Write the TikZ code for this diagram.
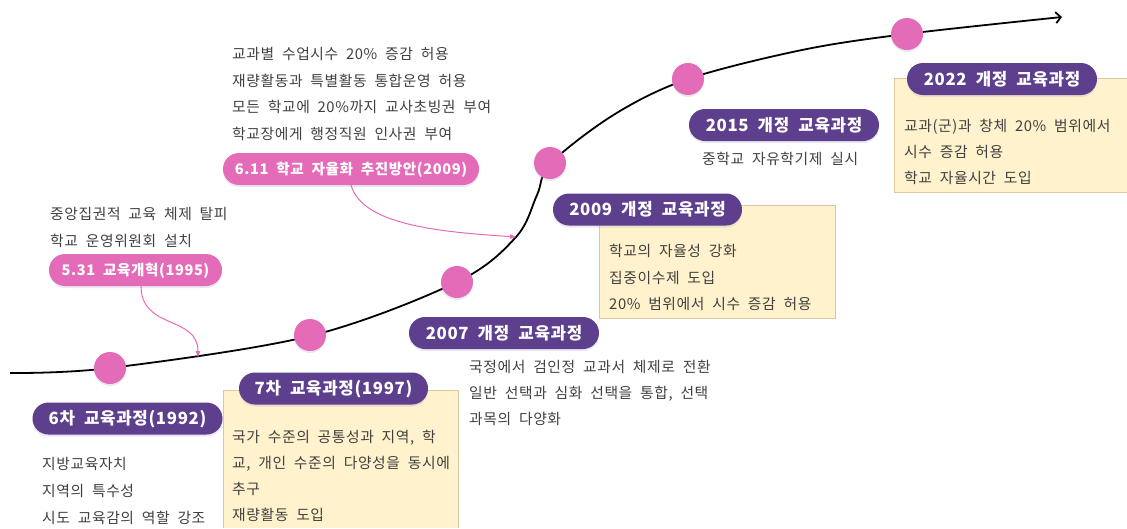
\documentclass[tikz,border=0pt]{standalone}
\usepackage{fontspec}
\setmainfont{Noto Sans CJK KR}[WordSpace=2.0, LetterSpace=4]
\usetikzlibrary{arrows.meta,shadows,shapes.misc}
\definecolor{mypurple}{HTML}{5D3F8E}
\definecolor{mypink}{HTML}{E46BB8}
\definecolor{yfill}{HTML}{FFF2CC}
\definecolor{yline}{HTML}{D9C8A0}
\definecolor{txtgray}{HTML}{404040}
\tikzset{
  pillbase/.style={rounded rectangle, text=white, inner sep=0pt, minimum height=32pt,
    drop shadow={shadow xshift=0pt, shadow yshift=-2pt, opacity=0.25, fill=mypurple!50}},
  ppill/.style={pillbase, fill=mypurple,
    font=\bfseries\fontsize{16.8}{18}\selectfont, text height=13.7pt, text depth=1.2pt},
  kpill/.style={pillbase, fill=mypink,
    font=\bfseries\fontsize{14.6}{17}\selectfont, text height=12pt, text depth=1pt},
  body/.style={anchor=west, inner sep=0pt, text=txtgray, font=\fontsize{14.8}{17}\selectfont,
    text height=12.1pt, text depth=1pt},
  dot/.style={circle, fill=mypink, minimum size=32pt, inner sep=0pt,
    drop shadow={shadow xshift=0pt, shadow yshift=-2pt, opacity=0.25, fill=mypurple!50}},
  ybox/.style={fill=yfill, draw=yline, line width=0.8pt},
  pinkarrow/.style={draw=mypink, line width=1pt, -{Latex[length=7pt,width=5pt]}},
}
\begin{document}
\begin{tikzpicture}[x=1pt,y=-1pt]
\useasboundingbox (0,0) rectangle (1127,528);
% yellow boxes
\fill[yfill] (223,390) rectangle (458,528);
\draw[yline, line width=0.8pt] (223,528) -- (223,390) -- (458,390) -- (458,528);
\draw[ybox] (599,205) rectangle (835,318);
\fill[yfill] (894,78) rectangle (1127,192);
\draw[yline, line width=0.8pt] (1127,78) -- (894,78) -- (894,192) -- (1127,192);
% main curve
\coordinate (cs) at (10,373);
\coordinate (ce) at (1062,17);
\draw[line width=1.8pt, -{Straight Barb[length=5pt,width=11pt]}] plot[smooth, tension=0.55] coordinates
  {(10,373) (110,368) (310,336) (457,282) (516,237) (537,195) (551,163) (615,114) (688,79) (802,50) (906,34) (1062,17)};
% dots
\node[dot] (d1) at (110,368) {};
\node[dot] (d2) at (310,335) {};
\node[dot] (d3) at (457,282) {};
\node[dot] (d4) at (550,163) {};
\node[dot] (d5) at (688,79) {};
\node[dot] (d6) at (907,34) {};
% purple pills
\node[ppill, minimum width=190pt] (p6) at (127.5,418.5) {6차 교육과정(1992)};
\node[ppill, minimum width=189pt] (p7) at (333.5,388.5) {7차 교육과정(1997)};
\node[ppill, minimum width=190pt] (p07) at (504,333) {2007 개정 교육과정};
\node[ppill, minimum width=189pt] (p09) at (647.5,209.5) {2009 개정 교육과정};
\node[ppill, minimum width=190pt] (p15) at (784,125) {2015 개정 교육과정};
\node[ppill, minimum width=190pt] (p22) at (1002,79) {2022 개정 교육과정};
% pink pills
\node[kpill, minimum width=173pt] (k531) at (135.5,270) {5.31 교육개혁(1995)};
\node[kpill, minimum width=256pt] (k611) at (351,169) {6.11 학교 자율화 추진방안(2009)};
% pink arrows
\coordinate (a1) at (198,358);
\coordinate (a2) at (517,237);
\draw[pinkarrow] (141,286) .. controls (141,330) and (198,315) .. (a1);
\draw[pinkarrow] (351,185) .. controls (362,225) and (440,232) .. (a2);
% texts
\node[body] (t6a) at (42,464) {지방교육자치};
\node[body] (t6b) at (42,491) {지역의 특수성};
\node[body] (t6c) at (42,518) {시도 교육감의 역할 강조};
\node[body] (t7a) at (232,437) {국가 수준의 공통성과 지역, 학};
\node[body] (t7b) at (232,463) {교, 개인 수준의 다양성을 동시에};
\node[body] (t7c) at (232,489) {추구};
\node[body] (t7d) at (232,515) {재량활동 도입};
\node[body] (t07a) at (469,367) {국정에서 검인정 교과서 체제로 전환};
\node[body] (t07b) at (469,393) {일반 선택과 심화 선택을 통합, 선택};
\node[body] (t07c) at (469,419) {과목의 다양화};
\node[body] (t09a) at (609,251) {학교의 자율성 강화};
\node[body] (t09b) at (609,278) {집중이수제 도입};
\node[body] (t09c) at (609,304) {20\% 범위에서 시수 증감 허용};
\node[body] (t15a) at (702,159) {중학교 자유학기제 실시};
\node[body] (t22a) at (904,126) {교과(군)과 창체 20\% 범위에서};
\node[body] (t22b) at (904,152) {시수 증감 허용};
\node[body] (t22c) at (904,178) {학교 자율시간 도입};
\node[body] (t531a) at (50,214) {중앙집권적 교육 체제 탈피};
\node[body] (t531b) at (50,241) {학교 운영위원회 설치};
\node[body] (t611a) at (232,54) {교과별 수업시수 20\% 증감 허용};
\node[body] (t611b) at (232,81) {재량활동과 특별활동 통합운영 허용};
\node[body] (t611c) at (232,107) {모든 학교에 20\%까지 교사초빙권 부여};
\node[body] (t611d) at (232,134) {학교장에게 행정직원 인사권 부여};
\end{tikzpicture}
\end{document}
